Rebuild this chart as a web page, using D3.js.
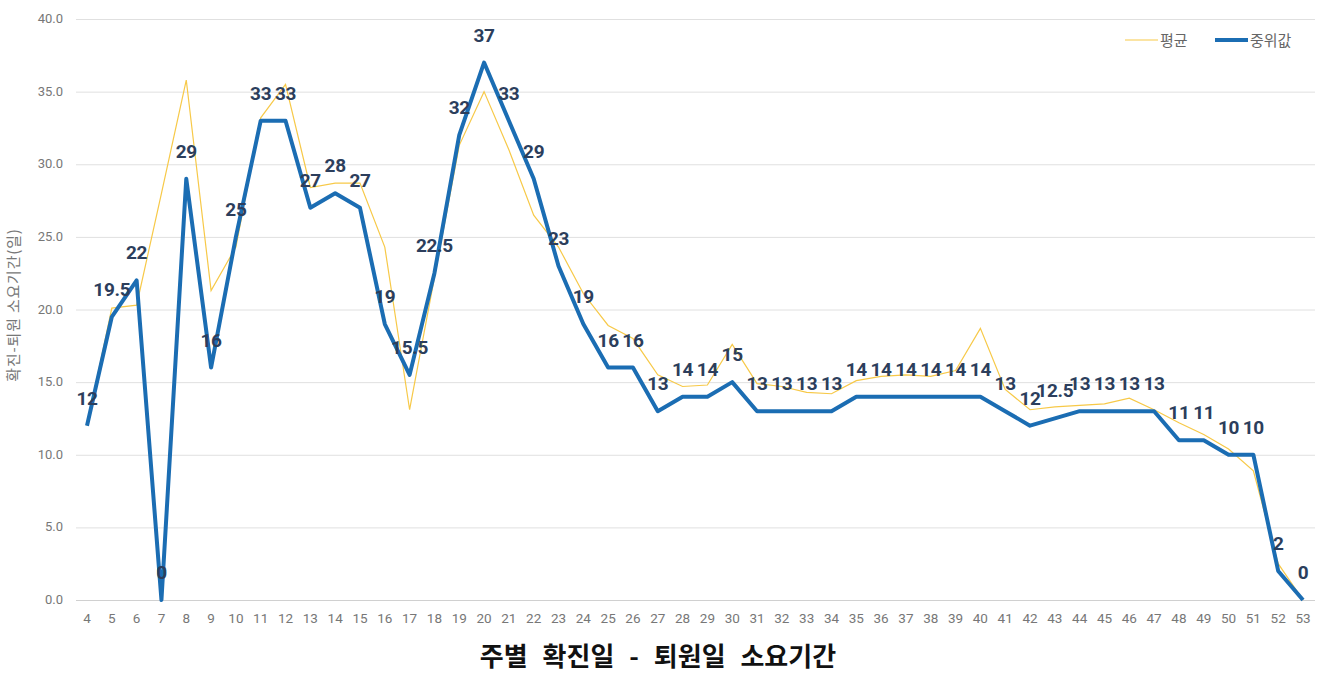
<!DOCTYPE html>
<html>
<head>
<meta charset="utf-8">
<script src="https://cdn.jsdelivr.net/npm/d3@7"></script>
<style>
  body { margin: 0; background: #fff; }
  svg { display: block; }
</style>
</head>
<body>
<div class="chart"></div>
<script>
// weeks on the x axis
var weeks = d3.range(4, 54);

// 중위값 (median)
var medianVals = [12, 19.5, 22, 0, 29, 16, 25, 33, 33, 27, 28, 27, 19, 15.5, 22.5, 32, 37, 33, 29, 23,
  19, 16, 16, 13, 14, 14, 15, 13, 13, 13, 13, 14, 14, 14, 14, 14, 14, 13, 12, 12.5,
  13, 13, 13, 13, 11, 11, 10, 10, 2, 0];

// 평균 (mean), estimated from the thin line
var meanVals = [12, 20.1, 20.3, 28, 35.8, 21.3, 24.3, 33.2, 35.5, 28.4, 28.7, 28.7, 24.3, 13.1, 22.2, 31.3, 35, 31, 26.5, 24.3,
  21.1, 18.9, 18, 15.5, 14.7, 14.8, 17.6, 14.9, 14.7, 14.3, 14.2, 15.1, 15.4, 15.5, 15.4, 15.8, 18.7, 14.5, 13.1, 13.3,
  13.4, 13.5, 13.9, 13.1, 12.2, 11.4, 10.4, 8.9, 2.5, 0];

var yTicks = [0, 5, 10, 15, 20, 25, 30, 35, 40];

var width = 1320, height = 674;
var svg = d3.select('.chart').append('svg')
  .attr('width', width)
  .attr('height', height);

var x = d3.scalePoint().domain(weeks).range([87, 1303]);
var y = d3.scaleLinear().domain([0, 40]).range([600, 19]);

// gridlines
svg.append('g')
  .selectAll('line')
  .data(yTicks)
  .enter()
  .append('line')
  .attr('x1', 76)
  .attr('x2', 1315)
  .attr('y1', function (d) { return y(d) + 0.5; })
  .attr('y2', function (d) { return y(d) + 0.5; })
  .attr('stroke', function (d) { return d === 0 ? '#d0d0d0' : '#e0e0e0'; })
  .attr('stroke-width', 1);

// y tick labels
svg.append('g')
  .selectAll('text')
  .data(yTicks)
  .enter()
  .append('text')
  .attr('x', 63)
  .attr('y', function (d) { return y(d) + 4; })
  .attr('text-anchor', 'end')
  .attr('font-family', 'Roboto, sans-serif')
  .attr('font-size', '13px')
  .attr('fill', '#777')
  .text(function (d) { return d3.format('.1f')(d); });

// x tick labels
svg.append('g')
  .selectAll('text')
  .data(weeks)
  .enter()
  .append('text')
  .attr('x', function (d) { return x(d); })
  .attr('y', 623)
  .attr('text-anchor', 'middle')
  .attr('font-family', 'Roboto, sans-serif')
  .attr('font-size', '13.5px')
  .attr('fill', '#777')
  .text(function (d) { return d; });

// y axis title
svg.append('text')
  .attr('transform', 'translate(19,' + 305 + ') rotate(-90)')
  .attr('text-anchor', 'middle')
  .attr('font-family', '"Noto Sans CJK KR", sans-serif')
  .attr('font-size', '15px')
  .attr('letter-spacing', '0.8px')
  .attr('fill', '#777')
  .text('확진-퇴원 소요기간(일)');

var line = d3.line()
  .x(function (d, i) { return x(weeks[i]); })
  .y(function (d) { return y(d); });

svg.append('path')
  .datum(meanVals)
  .attr('d', line)
  .attr('fill', 'none')
  .attr('stroke', '#f7c948')
  .attr('stroke-width', 1.2);

svg.append('path')
  .datum(medianVals)
  .attr('d', line)
  .attr('fill', 'none')
  .attr('stroke', '#1b6db3')
  .attr('stroke-width', 4)
  .attr('stroke-linejoin', 'round');

// data labels for median
svg.append('g')
  .selectAll('text')
  .data(medianVals)
  .enter()
  .append('text')
  .attr('x', function (d, i) { return x(weeks[i]); })
  .attr('y', function (d) { return y(d) - 21; })
  .attr('text-anchor', 'middle')
  .attr('font-family', 'Roboto, sans-serif')
  .attr('font-weight', 'bold')
  .attr('font-size', '19px')
  .attr('letter-spacing', '-0.3px')
  .attr('fill', '#2c3e5c')
  .text(function (d) { return d; });

// legend
var legend = [
  { name: '평균', color: '#f7c948', w: 1.2, x: 1125 },
  { name: '중위값', color: '#1b6db3', w: 4, x: 1215 }
];
var lg = svg.append('g').selectAll('g').data(legend).enter().append('g');
lg.append('line')
  .attr('x1', function (d) { return d.x; })
  .attr('x2', function (d) { return d.x + 33; })
  .attr('y1', 40).attr('y2', 40)
  .attr('stroke', function (d) { return d.color; })
  .attr('stroke-width', function (d) { return d.w; });
lg.append('text')
  .attr('x', function (d) { return d.x + 35; })
  .attr('y', 45.5)
  .attr('font-family', '"Noto Sans CJK KR", sans-serif')
  .attr('font-size', '15px')
  .attr('fill', '#666')
  .text(function (d) { return d.name; });

// title
svg.append('text')
  .attr('x', 658)
  .attr('y', 666)
  .attr('text-anchor', 'middle')
  .attr('font-family', '"Noto Sans CJK KR", sans-serif')
  .attr('font-weight', 'bold')
  .attr('font-size', '26px')
  .attr('word-spacing', '9px')
  .attr('fill', '#111')
  .text('주별 확진일 - 퇴원일 소요기간');
</script>
</body>
</html>
